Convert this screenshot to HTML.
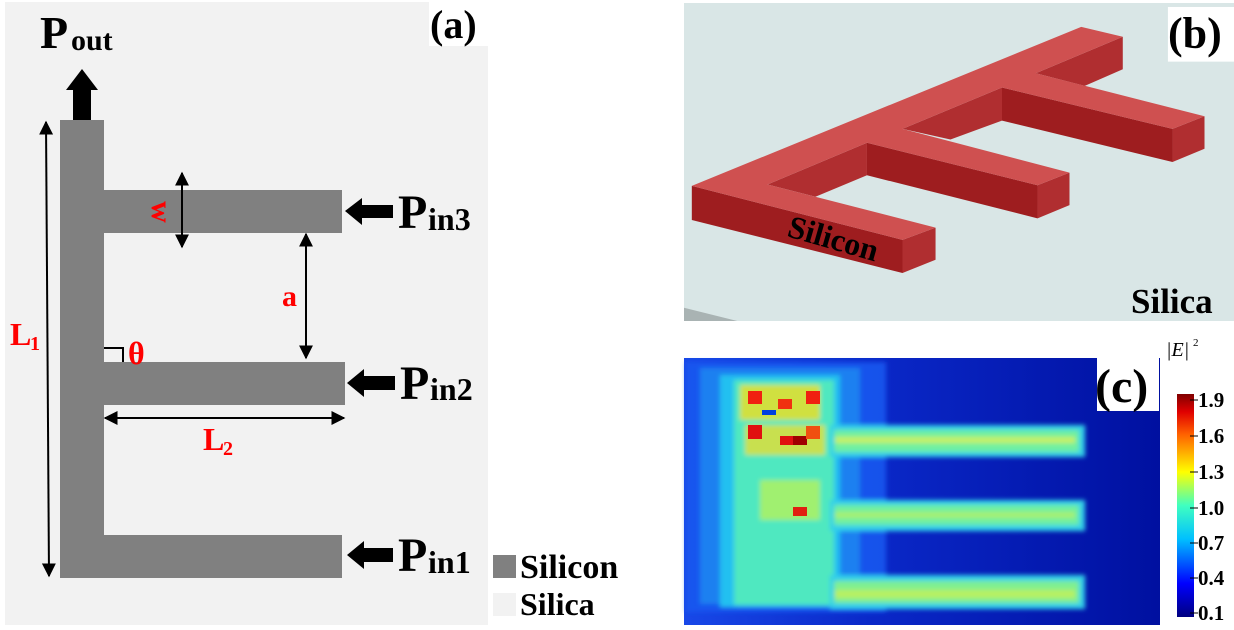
<!DOCTYPE html>
<html><head><meta charset="utf-8"><style>
body{margin:0;background:#fff;width:1234px;height:630px;overflow:hidden;position:relative;}
svg{position:absolute;left:0;top:0}
text{font-family:"Liberation Serif","DejaVu Serif",serif;font-weight:bold;}
</style></head><body>
<svg width="1234" height="630" viewBox="0 0 1234 630" font-family="'Liberation Serif','DejaVu Serif',serif">
<defs>
<marker id="ah" viewBox="0 0 10 10" refX="9" refY="5" markerWidth="7" markerHeight="7" orient="auto-start-reverse"><path d="M0,0L10,5L0,10z" fill="#000"/></marker>
<linearGradient id="cb" x1="0" y1="1" x2="0" y2="0">
<stop offset="0" stop-color="#00007f"/><stop offset="0.15" stop-color="#0000ff"/><stop offset="0.35" stop-color="#00c0ff"/><stop offset="0.5" stop-color="#40ffc0"/><stop offset="0.65" stop-color="#ffff00"/><stop offset="0.82" stop-color="#ff6000"/><stop offset="0.92" stop-color="#e00000"/><stop offset="1" stop-color="#800000"/></linearGradient>
<linearGradient id="hb" x1="0" y1="0" x2="1" y2="0"><stop offset="0" stop-color="#1848e8"/><stop offset="0.4" stop-color="#0a28c8"/><stop offset="1" stop-color="#0010a0"/></linearGradient>
<filter id="bl"><feGaussianBlur stdDeviation="2.5"/></filter>
</defs>
<!-- Panel a -->
<rect x="5" y="2" width="483" height="623" fill="#f2f2f2"/>
<rect x="429" y="0" width="60" height="46" fill="#fff"/>
<text x="430" y="38" font-size="40">(a)</text>
<text x="40" y="48" font-size="46">P</text><text x="71" y="50" font-size="30">out</text>
<polygon points="73,120 73,90 66,90 82,69 98,90 91,90 91,120" fill="#000"/>
<rect x="60" y="120" width="44" height="458" fill="#808080"/>
<rect x="104" y="190" width="238" height="43" fill="#808080"/>
<rect x="104" y="362" width="241" height="43" fill="#808080"/>
<rect x="104" y="535" width="238" height="43" fill="#808080"/>
<line x1="46" y1="122" x2="49" y2="576" stroke="#000" stroke-width="2" marker-start="url(#ah)" marker-end="url(#ah)"/>
<text x="10" y="345" font-size="32" fill="#f00">L</text><text x="30" y="350" font-size="20" fill="#f00">1</text>
<line x1="182" y1="173" x2="182" y2="247" stroke="#000" stroke-width="2" marker-start="url(#ah)" marker-end="url(#ah)"/>
<text x="0" y="0" font-size="30" fill="#f00" transform="translate(152,212) rotate(90)" text-anchor="middle">w</text>
<line x1="306" y1="234" x2="306" y2="358" stroke="#000" stroke-width="2" marker-start="url(#ah)" marker-end="url(#ah)"/>
<text x="282" y="306" font-size="30" fill="#f00">a</text>
<polyline points="104,348 123,348 123,362" fill="none" stroke="#000" stroke-width="2"/>
<text x="128" y="364" font-size="32" fill="#f00">θ</text>
<line x1="105" y1="418" x2="344" y2="418" stroke="#000" stroke-width="2" marker-start="url(#ah)" marker-end="url(#ah)"/>
<text x="203" y="450" font-size="32" fill="#f00">L</text><text x="223" y="455" font-size="20" fill="#f00">2</text>
<polygon points="393,205 362,205 362,198 345,211 362,225 362,218 393,218" fill="#000"/>
<polygon points="395,376 364,376 364,369 347,383 364,397 364,390 395,390" fill="#000"/>
<polygon points="393,548 364,548 364,541 347,555 364,569 364,562 393,562" fill="#000"/>
<text x="398" y="228" font-size="48">P</text><text x="428" y="230" font-size="32">in3</text>
<text x="400" y="399" font-size="48">P</text><text x="430" y="400" font-size="32">in2</text>
<text x="398" y="571" font-size="48">P</text><text x="428" y="573" font-size="32">in1</text>
<rect x="493" y="555" width="23" height="23" fill="#808080"/>
<text x="520" y="578" font-size="34">Silicon</text>
<rect x="493" y="593" width="23" height="23" fill="#f2f2f2"/>
<text x="520" y="615" font-size="32">Silica</text>

<!-- Panel b -->
<svg x="684" y="3" width="550" height="318" viewBox="0 0 1548 960" preserveAspectRatio="none">
<rect width="1548" height="960" fill="#d9e6e6"/>
<polygon points="0,920 150,960 0,960" fill="#a9b3b3"/>
<polygon points="22,552 615,715 615,815 22,655" fill="#9e1d1f"/>
<polygon points="615,715 708,678 708,775 615,815" fill="#b02e30"/>
<polygon points="515,422 995,550 995,650 515,520" fill="#9e1d1f"/>
<polygon points="995,550 1085,512 1085,610 995,650" fill="#b02e30"/>
<polygon points="895,255 1375,380 1375,480 895,355" fill="#9e1d1f"/>
<polygon points="1375,380 1465,342 1465,440 1375,480" fill="#b02e30"/>
<polygon points="235,548 515,422 515,520 370,585" fill="#b02e30"/>
<polygon points="615,380 895,255 895,355 750,412" fill="#b02e30"/>
<polygon points="990,212 1235,102 1235,200 1128,250" fill="#b02e30"/>
<polygon points="22,552 1118,72 1235,102 990,212 1465,342 1375,380 895,255 615,380 1085,512 995,550 515,422 235,548 708,678 615,715" fill="#cf5050"/>
<rect x="1362" y="12" width="186" height="165" fill="#fff"/>
</svg>
<text x="1168" y="48" font-size="44">(b)</text>
<text x="0" y="0" font-size="32" transform="translate(786,236) rotate(16)">Silicon</text>
<text x="1131" y="313" font-size="35">Silica</text>

<!-- Panel c -->
<rect x="684" y="358" width="476" height="267" fill="url(#hb)"/>
<g filter="url(#bl)">
<rect x="686" y="362" width="200" height="250" fill="#1458f0" opacity="0.9"/>
<rect x="700" y="368" width="160" height="236" fill="#1a80f0"/>
<rect x="720" y="375" width="120" height="232" fill="#20c0f0"/>
<rect x="734" y="380" width="100" height="225" fill="#50e8c0"/>
<rect x="830" y="425" width="255" height="32" fill="#30d0e8"/>
<rect x="830" y="500" width="255" height="31" fill="#30d0e8"/>
<rect x="830" y="575" width="255" height="34" fill="#30d0e8"/>
<rect x="834" y="430" width="245" height="22" fill="#70f0a0"/>
<rect x="834" y="505" width="245" height="20" fill="#70f0a0"/>
<rect x="834" y="581" width="245" height="22" fill="#80f090"/>
<rect x="835" y="437" width="240" height="6" fill="#c8f060"/>
<rect x="835" y="512" width="240" height="6" fill="#a8f070"/>
<rect x="835" y="590" width="240" height="8" fill="#b8f060"/>
<rect x="740" y="385" width="80" height="35" fill="#d0e040"/>
<rect x="745" y="425" width="80" height="30" fill="#c8e050"/>
<rect x="760" y="480" width="60" height="40" fill="#a0f070"/>
</g>
<rect x="748" y="391" width="14" height="13" fill="#f02010"/>
<rect x="806" y="391" width="14" height="13" fill="#f02010"/>
<rect x="778" y="399" width="14" height="10" fill="#f03010"/>
<rect x="748" y="425" width="14" height="14" fill="#e01010"/>
<rect x="780" y="436" width="14" height="9" fill="#e01010"/>
<rect x="793" y="436" width="14" height="9" fill="#a00000"/>
<rect x="806" y="426" width="14" height="13" fill="#f05010"/>
<rect x="793" y="507" width="14" height="9" fill="#e02010"/>
<rect x="762" y="410" width="14" height="5" fill="#0040e0"/>
<rect x="1097" y="330" width="62" height="81" fill="#fff"/>
<text x="1095" y="402" font-size="48">(c)</text>
<text x="1166" y="356" font-size="20" font-style="italic" style="font-weight:normal">|E|</text><text x="1193" y="346" font-size="11" style="font-weight:normal">2</text>
<rect x="1177" y="394" width="17" height="223" fill="url(#cb)"/>
<g stroke="#000">
<line x1="1190" y1="400" x2="1198" y2="400"/><line x1="1190" y1="436" x2="1198" y2="436"/><line x1="1190" y1="472" x2="1198" y2="472"/><line x1="1190" y1="508" x2="1198" y2="508"/><line x1="1190" y1="543" x2="1198" y2="543"/><line x1="1190" y1="578" x2="1198" y2="578"/><line x1="1190" y1="613" x2="1198" y2="613"/>
</g>
<g font-size="21">
<text x="1198" y="407">1.9</text><text x="1198" y="443">1.6</text><text x="1198" y="479">1.3</text><text x="1198" y="515">1.0</text><text x="1198" y="550">0.7</text><text x="1198" y="585">0.4</text><text x="1198" y="620">0.1</text>
</g>
</svg>
</body></html>
